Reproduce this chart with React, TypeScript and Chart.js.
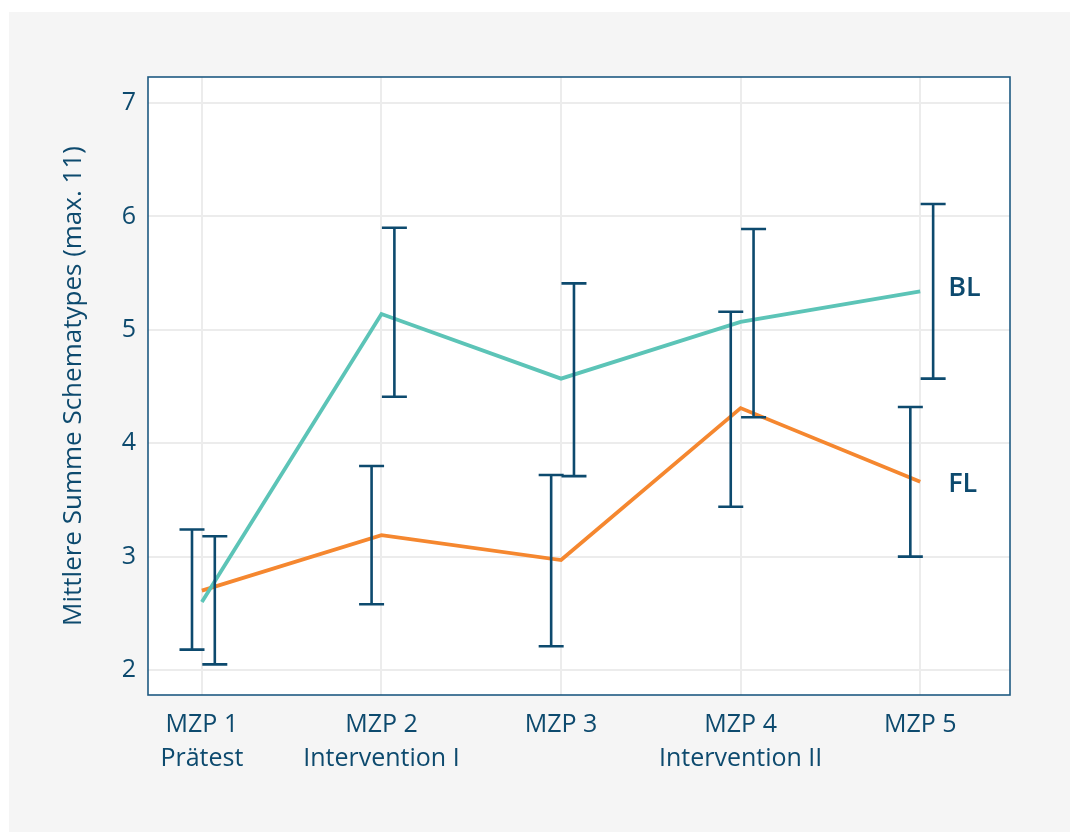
import React, { useEffect, useRef } from 'react';
import { Chart, registerables } from 'chart.js';

Chart.register(...registerables);

const categories = [1, 2, 3, 4, 5];
const tickLabels: (string | string[])[] = [
  ['MZP 1', 'Prätest'],
  ['MZP 2', 'Intervention I'],
  ['MZP 3'],
  ['MZP 4', 'Intervention II'],
  ['MZP 5'],
];
const yTicks = [2, 3, 4, 5, 6, 7];
const seriesNames = ['BL', 'FL'];

const blMean = [2.6, 5.14, 4.57, 5.07, 5.34];
const blLower = [2.05, 4.41, 3.71, 4.23, 4.57];
const blUpper = [3.18, 5.9, 5.41, 5.89, 6.11];

const flMean = [2.7, 3.19, 2.97, 4.31, 3.66];
const flLower = [2.18, 2.58, 2.21, 3.44, 3.0];
const flUpper = [3.24, 3.8, 3.72, 5.16, 4.32];

const TEAL = '#5cc4b7';
const ORANGE = '#f5872f';
const NAVY = '#0d4a6e';
const FONT = "'Open Sans', sans-serif";

const bgPlugin = {
  id: 'bgPanel',
  beforeDraw(chart: any) {
    const { ctx, chartArea } = chart;
    ctx.save();
    ctx.fillStyle = '#ffffff';
    ctx.fillRect(0, 0, chart.width, chart.height);
    ctx.fillStyle = '#f5f5f5';
    ctx.fillRect(9, 12, 1061, 820);
    ctx.fillStyle = '#ffffff';
    ctx.fillRect(chartArea.left, chartArea.top, chartArea.right - chartArea.left, chartArea.bottom - chartArea.top);
    ctx.restore();
  },
  afterDraw(chart: any) {
    const { ctx, chartArea } = chart;
    ctx.save();
    ctx.strokeStyle = '#1f5a82';
    ctx.lineWidth = 1.6;
    ctx.strokeRect(chartArea.left, chartArea.top, chartArea.right - chartArea.left, chartArea.bottom - chartArea.top);
    ctx.restore();
  },
};

const errorBarPlugin = {
  id: 'errorBars',
  afterDatasetsDraw(chart: any) {
    const { ctx, scales } = chart;
    const x = scales.x;
    const y = scales.y;
    ctx.save();
    ctx.strokeStyle = NAVY;
    ctx.lineWidth = 2.6;
    const cap = 12.5;
    const draw = (lo: number[], hi: number[], off: number) => {
      categories.forEach((c, i) => {
        const px = x.getPixelForValue(c + off);
        const p1 = y.getPixelForValue(lo[i]);
        const p2 = y.getPixelForValue(hi[i]);
        ctx.beginPath();
        ctx.moveTo(px, p1);
        ctx.lineTo(px, p2);
        ctx.moveTo(px - cap, p1);
        ctx.lineTo(px + cap, p1);
        ctx.moveTo(px - cap, p2);
        ctx.lineTo(px + cap, p2);
        ctx.stroke();
      });
    };
    draw(flLower, flUpper, -0.055);
    draw(blLower, blUpper, 0.072);
    ctx.restore();
  },
  afterDraw(chart: any) {
    const { ctx, scales } = chart;
    const x = scales.x;
    const y = scales.y;
    const last = categories.length - 1;
    ctx.save();
    ctx.fillStyle = NAVY;
    ctx.font = `600 27px ${FONT}`;
    ctx.textAlign = 'left';
    ctx.textBaseline = 'middle';
    const lx = x.getPixelForValue(categories[last]) + 28;
    ctx.fillText(seriesNames[0], lx, y.getPixelForValue(blMean[last]) - 3);
    ctx.fillText(seriesNames[1], lx, y.getPixelForValue(flMean[last]) + 2);
    ctx.restore();
  },
};

export default function App() {
  const ref = useRef<HTMLCanvasElement | null>(null);

  useEffect(() => {
    document.body.style.margin = '0';
    if (!ref.current) return;
    const chart = new Chart(ref.current, {
      type: 'line',
      data: {
        datasets: [
          {
            label: seriesNames[0],
            data: categories.map((c, i) => ({ x: c, y: blMean[i] })),
            borderColor: TEAL,
            backgroundColor: TEAL,
            borderWidth: 3.8,
            pointRadius: 0,
            tension: 0,
            fill: false,
          },
          {
            label: seriesNames[1],
            data: categories.map((c, i) => ({ x: c, y: flMean[i] })),
            borderColor: ORANGE,
            backgroundColor: ORANGE,
            borderWidth: 3.8,
            pointRadius: 0,
            tension: 0,
            fill: false,
          },
        ],
      },
      options: {
        responsive: false,
        animation: false,
        layout: { padding: { left: 0, top: 77, right: 70, bottom: 0 } },
        plugins: {
          legend: { display: false },
          tooltip: { enabled: false },
        },
        scales: {
          x: {
            type: 'linear',
            min: 0.7,
            max: 5.5,
            afterBuildTicks: (scale: any) => {
              scale.ticks = categories.map((v) => ({ value: v }));
            },
            afterFit: (scale: any) => {
              scale.height = 139;
            },
            grid: { color: '#ececec', lineWidth: 2, drawTicks: false },
            border: { display: false },
            ticks: {
              autoSkip: false,
              maxRotation: 0,
              padding: 13,
              color: NAVY,
              font: { family: FONT, size: 25, lineHeight: 34 / 25 },
              callback: (_v: any, i: number) => tickLabels[i],
            },
          },
          y: {
            type: 'linear',
            min: 1.78,
            max: 7.23,
            afterBuildTicks: (scale: any) => {
              scale.ticks = yTicks.map((v) => ({ value: v }));
            },
            afterFit: (scale: any) => {
              scale.width = 148;
            },
            grid: { color: '#ececec', lineWidth: 2, drawTicks: false },
            border: { display: false },
            ticks: {
              padding: 12,
              color: NAVY,
              font: { family: FONT, size: 25 },
            },
            title: {
              display: true,
              text: 'Mittlere Summe Schematypes (max. 11)',
              color: NAVY,
              font: { family: FONT, size: 26 },
              padding: { top: 58, bottom: 0 },
            },
          },
        },
      },
      plugins: [bgPlugin, errorBarPlugin],
    } as any);
    return () => chart.destroy();
  }, []);

  return (
    <div style={{ width: 1080, height: 834 }}>
      <canvas ref={ref} width={1080} height={834} style={{ display: 'block' }} />
    </div>
  );
}
